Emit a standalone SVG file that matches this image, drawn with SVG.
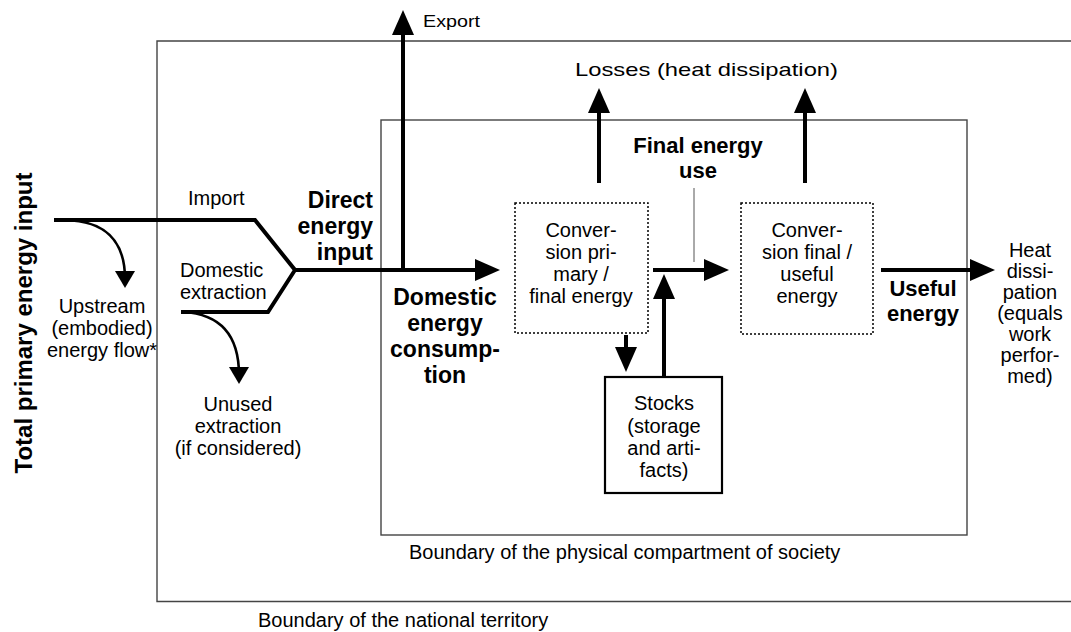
<svg xmlns="http://www.w3.org/2000/svg" width="1071" height="632" viewBox="0 0 1071 632">
<style>
text{font-family:"Liberation Sans",Arial,sans-serif;fill:#000}
.r{font-size:20px}
.b{font-size:23px;font-weight:bold}
.b2{font-size:22px;font-weight:bold}
.m{text-anchor:middle}
.e{text-anchor:end}
.bound{fill:none;stroke:#444;stroke-width:1.4}
.dot{fill:none;stroke:#000;stroke-width:1.5;stroke-dasharray:2 2}
.solid{fill:none;stroke:#000;stroke-width:2.2}
.thick{fill:none;stroke:#000;stroke-width:4;stroke-linejoin:miter}
.curve{fill:none;stroke:#000;stroke-width:2.6}
.tick{fill:none;stroke:#555;stroke-width:1}
</style>
<defs>
<marker id="big" markerUnits="userSpaceOnUse" markerWidth="25" markerHeight="22" refX="10" refY="11" orient="auto" viewBox="0 0 25 22"><path d="M0,0 L25,11 L0,22 z" fill="#000"/></marker>
<marker id="small" markerUnits="userSpaceOnUse" markerWidth="17" markerHeight="20" refX="8" refY="10" orient="auto" viewBox="0 0 17 20"><path d="M0,0 L17,10 L0,20 z" fill="#000"/></marker>
</defs>
<rect width="1071" height="632" fill="#fff"/>
<g id="national-boundary">
<path class="bound" d="M1075,41 H157 V601.5 H1075"/>
<text class="r" x="258" y="627">Boundary of the national territory</text>
</g>
<g id="physical-boundary">
<rect class="bound" x="381" y="120" width="586" height="415"/>
<text class="r" x="409" y="559">Boundary of the physical compartment of society</text>
</g>
<g id="connectors">
<path class="thick" d="M54,220 H255 L295,270 L268,312 H181"/>
<path class="thick" d="M295,270 H485" marker-end="url(#big)"/>
<path class="thick" d="M403,270 V25" marker-end="url(#big)"/>
<path class="thick" d="M599,183 V103" marker-end="url(#big)"/>
<path class="thick" d="M805,183 V103" marker-end="url(#big)"/>
<path class="thick" d="M626,335 V357" marker-end="url(#big)"/>
<path class="thick" d="M664,377 V289" marker-end="url(#big)"/>
<path class="thick" d="M653,270 H714" marker-end="url(#big)"/>
<path class="thick" d="M881,270 H980" marker-end="url(#big)"/>
<path class="curve" d="M65,220 C105,221 125,240 125,279" marker-end="url(#small)"/>
<path class="curve" d="M183,312 C220,314 239,335 239,375" marker-end="url(#small)"/>
<path class="tick" d="M694,188 V262"/>
</g>
<g id="total-primary">
<text class="b" style="font-size:24px" transform="translate(32,323) rotate(-90)" text-anchor="middle">Total primary energy input</text>
</g>
<g id="upstream">
<text class="r m" x="102" y="313">Upstream</text>
<text class="r m" x="102" y="335">(embodied)</text>
<text class="r m" x="102" y="357">energy flow*</text>
</g>
<g id="import"><text class="r" x="188" y="205">Import</text></g>
<g id="domestic-extraction">
<text class="r" x="180" y="277">Domestic</text>
<text class="r" x="180" y="299">extraction</text>
</g>
<g id="unused">
<text class="r m" x="238" y="411">Unused</text>
<text class="r m" x="238" y="433">extraction</text>
<text class="r m" x="238" y="455">(if considered)</text>
</g>
<g id="direct-input">
<text class="b e" x="373" y="208">Direct</text>
<text class="b e" x="373" y="234">energy</text>
<text class="b e" x="373" y="260">input</text>
</g>
<g id="export"><text x="423" y="27" style="font-size:16px" textLength="57" lengthAdjust="spacingAndGlyphs">Export</text></g>
<g id="losses"><text x="575" y="76" style="font-size:19px" textLength="263" lengthAdjust="spacingAndGlyphs">Losses (heat dissipation)</text></g>
<g id="domestic-consumption">
<text class="b m" x="445" y="305">Domestic</text>
<text class="b m" x="445" y="331">energy</text>
<text class="b m" x="445" y="357">consump-</text>
<text class="b m" x="445" y="383">tion</text>
</g>
<g id="final-energy-use">
<text class="b2 m" x="698" y="153">Final energy</text>
<text class="b2 m" x="698" y="178">use</text>
</g>
<g id="conversion-primary">
<rect class="dot" x="515" y="203" width="133" height="130"/>
<text class="r m" x="581" y="237">Conver-</text>
<text class="r m" x="581" y="259">sion pri-</text>
<text class="r m" x="581" y="281">mary /</text>
<text class="r m" x="581" y="303">final energy</text>
</g>
<g id="conversion-final">
<rect class="dot" x="741" y="203" width="132" height="131"/>
<text class="r m" x="807" y="237">Conver-</text>
<text class="r m" x="807" y="259">sion final /</text>
<text class="r m" x="807" y="281">useful</text>
<text class="r m" x="807" y="303">energy</text>
</g>
<g id="stocks">
<rect class="solid" x="605" y="377" width="117" height="116"/>
<text class="r m" x="664" y="410">Stocks</text>
<text class="r m" x="664" y="433">(storage</text>
<text class="r m" x="664" y="455">and arti-</text>
<text class="r m" x="664" y="477">facts)</text>
</g>
<g id="useful-energy">
<text class="b2 m" x="923" y="296">Useful</text>
<text class="b2 m" x="923" y="321">energy</text>
</g>
<g id="heat-dissipation">
<text class="r m" x="1030" y="257">Heat</text>
<text class="r m" x="1030" y="278">dissi-</text>
<text class="r m" x="1030" y="299">pation</text>
<text class="r m" x="1030" y="320">(equals</text>
<text class="r m" x="1030" y="341">work</text>
<text class="r m" x="1030" y="362">perfor-</text>
<text class="r m" x="1030" y="383">med)</text>
</g>
</svg>
